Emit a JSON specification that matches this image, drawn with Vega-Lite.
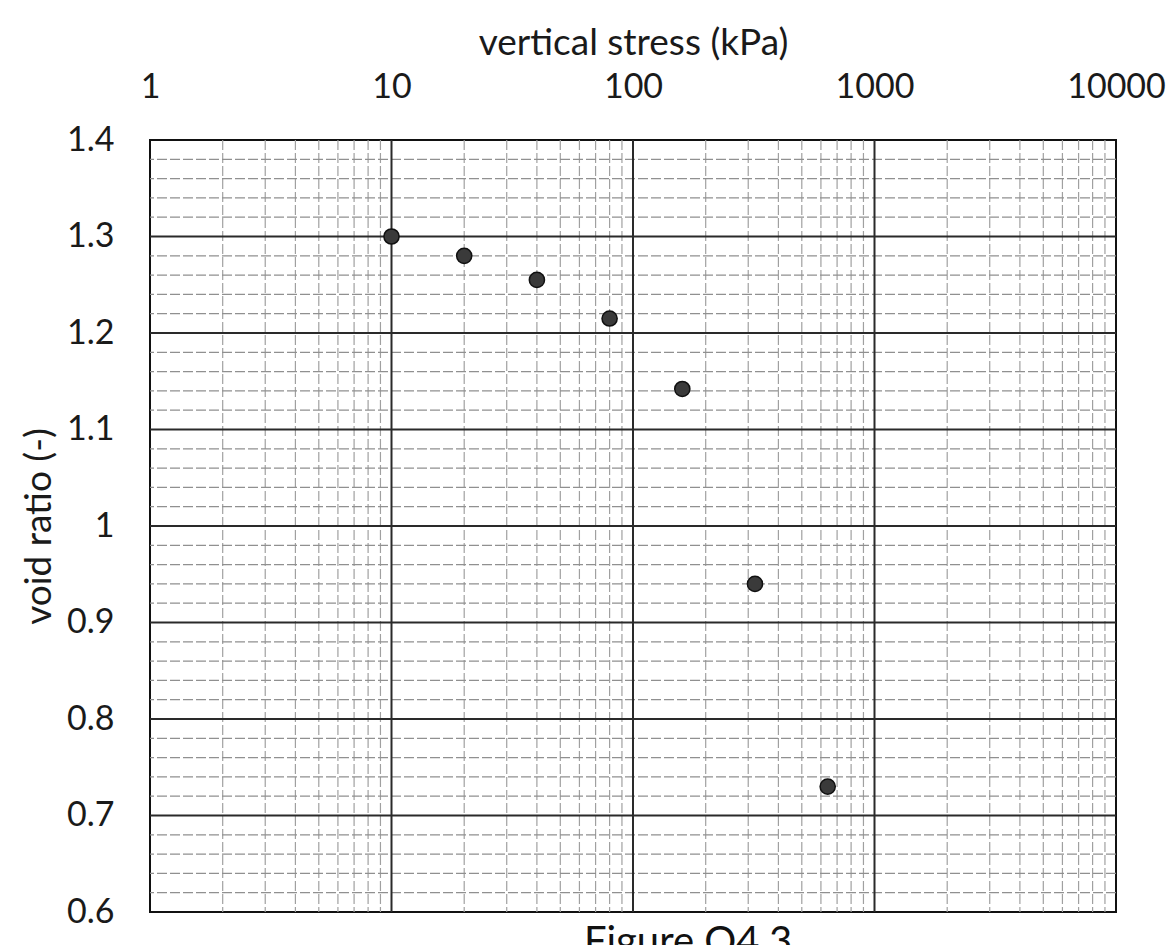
{
  "$schema": "https://vega.github.io/schema/vega-lite/v6.json",
  "width": 966,
  "height": 772,
  "autosize": "none",
  "padding": {"left": 150, "top": 140, "right": 54, "bottom": 33},
  "background": "white",
  "config": {
    "view": {"stroke": "#111111", "strokeWidth": 2},
    "font": "Lato",
    "axis": {
      "grid": false, "ticks": false, "domain": false,
      "labelFont": "Lato", "labelFontSize": 34, "labelColor": "#1a1a1a", "labelPadding": 36,
      "labelFlush": false, "labelOverlap": false,
      "titleFont": "Lato", "titleFontSize": 37, "titleFontWeight": "normal", "titleColor": "#1a1a1a"
    },
    "axisX": {"titlePadding": 8},
    "axisY": {"titlePadding": 8}
  },
  "title": {
    "text": "Figure Q4.3",
    "orient": "bottom",
    "anchor": "middle",
    "dx": 55,
    "offset": -6,
    "fontSize": 40,
    "fontWeight": "normal",
    "font": "Lato",
    "color": "#111111"
  },
  "datasets": {
    "minorx": [
      {"stress": 2}, {"stress": 3}, {"stress": 4}, {"stress": 5}, {"stress": 6}, {"stress": 7}, {"stress": 8}, {"stress": 9},
      {"stress": 20}, {"stress": 30}, {"stress": 40}, {"stress": 50}, {"stress": 60}, {"stress": 70}, {"stress": 80}, {"stress": 90},
      {"stress": 200}, {"stress": 300}, {"stress": 400}, {"stress": 500}, {"stress": 600}, {"stress": 700}, {"stress": 800}, {"stress": 900},
      {"stress": 2000}, {"stress": 3000}, {"stress": 4000}, {"stress": 5000}, {"stress": 6000}, {"stress": 7000}, {"stress": 8000}, {"stress": 9000}
    ],
    "minory": [
      {"e": 0.62}, {"e": 0.64}, {"e": 0.66}, {"e": 0.68},
      {"e": 0.72}, {"e": 0.74}, {"e": 0.76}, {"e": 0.78},
      {"e": 0.82}, {"e": 0.84}, {"e": 0.86}, {"e": 0.88},
      {"e": 0.92}, {"e": 0.94}, {"e": 0.96}, {"e": 0.98},
      {"e": 1.02}, {"e": 1.04}, {"e": 1.06}, {"e": 1.08},
      {"e": 1.12}, {"e": 1.14}, {"e": 1.16}, {"e": 1.18},
      {"e": 1.22}, {"e": 1.24}, {"e": 1.26}, {"e": 1.28},
      {"e": 1.32}, {"e": 1.34}, {"e": 1.36}, {"e": 1.38}
    ],
    "majorx": [{"stress": 10}, {"stress": 100}, {"stress": 1000}],
    "majory": [{"e": 0.7}, {"e": 0.8}, {"e": 0.9}, {"e": 1.0}, {"e": 1.1}, {"e": 1.2}, {"e": 1.3}],
    "points": [
      {"stress": 10, "e": 1.30},
      {"stress": 20, "e": 1.28},
      {"stress": 40, "e": 1.255},
      {"stress": 80, "e": 1.215},
      {"stress": 160, "e": 1.142},
      {"stress": 320, "e": 0.94},
      {"stress": 640, "e": 0.73}
    ]
  },
  "layer": [
    {
      "data": {"name": "minorx"},
      "mark": {"type": "rule", "color": "#a0a0a0", "strokeWidth": 1.2, "strokeDash": [10, 3]},
      "encoding": {
        "x": {"field": "stress", "type": "quantitative", "scale": {"type": "log", "domain": [1, 10000], "nice": false},
          "axis": {"orient": "top", "values": [1, 10, 100, 1000, 10000], "format": "d", "title": "vertical stress (kPa)"}}
      }
    },
    {
      "data": {"name": "minory"},
      "mark": {"type": "rule", "color": "#909090", "strokeWidth": 1.2, "strokeDash": [10, 3]},
      "encoding": {
        "y": {"field": "e", "type": "quantitative", "scale": {"domain": [0.6, 1.4], "nice": false, "zero": false},
          "axis": {"values": [0.6, 0.7, 0.8, 0.9, 1.0, 1.1, 1.2, 1.3, 1.4], "format": "~g", "title": "void ratio (-)"}}
      }
    },
    {
      "data": {"name": "majorx"},
      "mark": {"type": "rule", "color": "#2a2a2a", "strokeWidth": 2},
      "encoding": {
        "x": {"field": "stress", "type": "quantitative", "scale": {"type": "log", "domain": [1, 10000], "nice": false},
          "axis": {"orient": "top", "values": [1, 10, 100, 1000, 10000], "format": "d", "title": "vertical stress (kPa)"}}
      }
    },
    {
      "data": {"name": "majory"},
      "mark": {"type": "rule", "color": "#2a2a2a", "strokeWidth": 2},
      "encoding": {
        "y": {"field": "e", "type": "quantitative", "scale": {"domain": [0.6, 1.4], "nice": false, "zero": false},
          "axis": {"values": [0.6, 0.7, 0.8, 0.9, 1.0, 1.1, 1.2, 1.3, 1.4], "format": "~g", "title": "void ratio (-)"}}
      }
    },
    {
      "data": {"name": "points"},
      "mark": {"type": "point", "filled": true, "size": 230, "color": "#3a3a3a", "stroke": "#111111", "strokeWidth": 1.5, "opacity": 1},
      "encoding": {
        "x": {"field": "stress", "type": "quantitative", "scale": {"type": "log", "domain": [1, 10000], "nice": false},
          "axis": {"orient": "top", "values": [1, 10, 100, 1000, 10000], "format": "d", "title": "vertical stress (kPa)"}},
        "y": {"field": "e", "type": "quantitative", "scale": {"domain": [0.6, 1.4], "nice": false, "zero": false},
          "axis": {"values": [0.6, 0.7, 0.8, 0.9, 1.0, 1.1, 1.2, 1.3, 1.4], "format": "~g", "title": "void ratio (-)"}}
      }
    }
  ]
}
